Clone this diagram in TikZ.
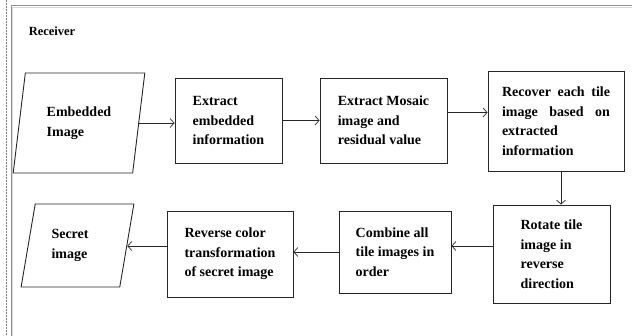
\documentclass[tikz,border=0pt]{standalone}
\usepackage{fontspec}
\setmainfont{Liberation Serif}
\usetikzlibrary{shapes.geometric,arrows.meta}

\tikzset{
  procbox/.style={draw=black!85,line width=0.9pt,rectangle,align=left,inner sep=0pt,
    font=\bfseries\fontsize{14}{19.5}\selectfont},
  iobox/.style={draw=black!85,line width=0.9pt,trapezium,trapezium stretches=true,
    align=left,inner sep=0pt,font=\bfseries\fontsize{14}{20.5}\selectfont},
  flow/.style={->,line width=0.7pt,black!85},
}

\begin{document}
\begin{tikzpicture}[x=1pt,y=-1pt,>={Straight Barb[length=4pt,width=9pt]}]
  \useasboundingbox (0,0) rectangle (632,336);
  % page frame
  \draw[gray,dash pattern=on 2pt off 1pt,line width=0.8pt] (6,0) -- (6,336);
  \draw[gray!85,line width=1pt] (11,336) -- (11,6) -- (632,6);
  \draw[gray!30,line width=1pt] (12.5,336) -- (12.5,7.5) -- (632,7.5);

  \node[font=\bfseries\fontsize{12.5}{15}\selectfont] (rcv) at (52,31) {Receiver};

  % first row
  \node[iobox,trapezium left angle=77.6,trapezium right angle=102.4,
        minimum width=132pt,minimum height=100pt] (emb) at (79,123) {Embedded\\Image};
  \node[procbox,minimum width=107pt,minimum height=85pt] (ext) at (228.5,120.5)
        {Extract\\embedded\\information};
  \node[procbox,minimum width=127pt,minimum height=85pt] (mos) at (383.5,120.5)
        {Extract Mosaic\\image and\\residual value};
  \node[procbox,minimum width=136pt,minimum height=100pt,text width=108pt,align=justify]
        (rec) at (556,121) {Recover each tile\linebreak image based on\linebreak extracted\\information};

  % second row
  \node[procbox,minimum width=117pt,minimum height=98pt] (rot) at (551.5,254)
        {Rotate tile\\image in\\reverse\\direction};
  \node[procbox,minimum width=112pt,minimum height=82pt] (comb) at (395,252)
        {Combine all\\tile images in\\order};
  \node[procbox,minimum width=126pt,minimum height=86pt] (rev) at (230,254)
        {Reverse color\\transformation\\of secret image};
  \node[iobox,trapezium left angle=75.2,trapezium right angle=104.8,
        minimum width=113pt,minimum height=83pt,text width=52pt] (sec) at (77.5,245.5)
        {Secret\\image};

  \path[flow] (emb.east) edge (emb.east -| ext.west)
              (ext.east) edge (ext.east -| mos.west)
              ([yshift=8pt]mos.east) edge ([yshift=8pt]mos.east -| rec.west)
              ([xshift=5pt]rec.south) edge ([xshift=5pt]rec.south |- rot.north)
              ([yshift=8pt]rot.west) edge ([yshift=8pt]rot.west -| comb.east)
              (comb.west) edge (comb.west -| rev.east)
              ([yshift=8pt]rev.west) edge ([yshift=8pt]rev.west -| sec.east);
\end{tikzpicture}
\end{document}
